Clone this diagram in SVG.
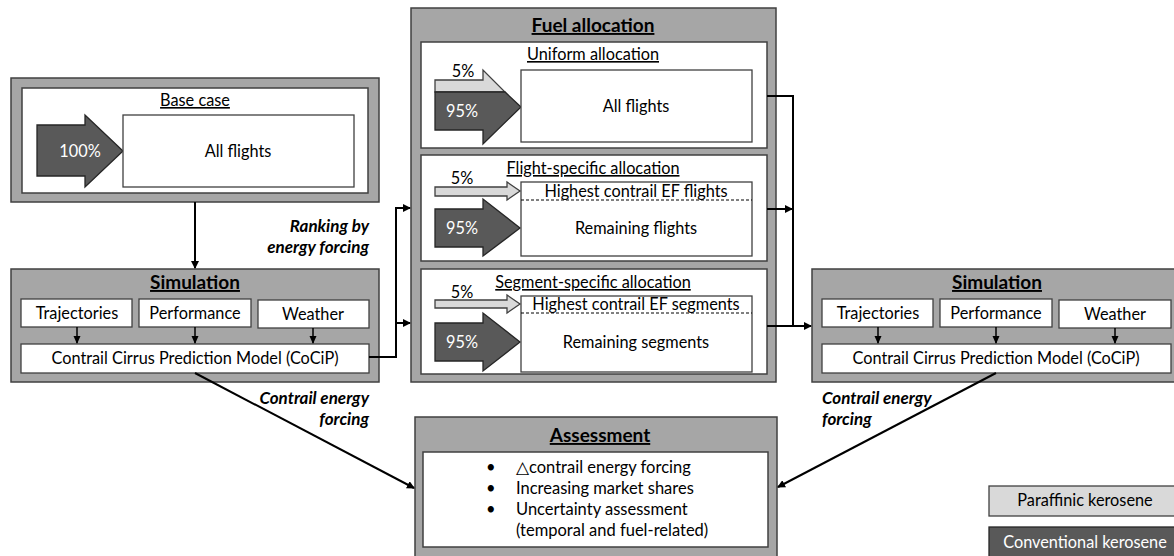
<svg xmlns="http://www.w3.org/2000/svg" width="1174" height="556" viewBox="0 0 1174 556">
<style>
text{font-family:Lato,"Open Sans","Liberation Sans",sans-serif;fill:#000}
.outer{fill:#a6a6a6;stroke:#404040;stroke-width:1.5}
.inner{fill:#fff;stroke:#404040;stroke-width:1.5}
.box{fill:#fff;stroke:#404040;stroke-width:1.3}
.dark{fill:#595959;stroke:#262626;stroke-width:1.3}
.light{fill:#d9d9d9;stroke:#404040;stroke-width:1.3}
.t{font-size:16.3px;text-anchor:middle}
.h{font-size:19px;font-weight:bold;text-anchor:middle;text-decoration:underline}
.s{font-size:16.3px;text-anchor:middle;text-decoration:underline}
.w{fill:#fff}
.lab{font-size:17px;font-weight:bold;font-style:italic}
.con{fill:none;stroke:#000;stroke-width:2}
.sm{fill:none;stroke:#000;stroke-width:1.5}
.dash{stroke:#000;stroke-width:1;stroke-dasharray:3 2}
</style>
<defs>
<marker id="ah" markerWidth="8" markerHeight="8" refX="7" refY="4" orient="auto" markerUnits="userSpaceOnUse">
<path d="M0,0 L8,4 L0,8 Z" fill="#000"/>
</marker>
<marker id="ahs" markerWidth="8" markerHeight="8" refX="7" refY="4" orient="auto" markerUnits="userSpaceOnUse">
<path d="M0,0.5 L8,4 L0,7.5 Z" fill="#000"/>
</marker>
</defs>

<g id="base-case">
<rect class="outer" x="11" y="78" width="368" height="124"/>
<rect class="inner" x="22" y="88" width="346" height="105"/>
<text class="s" x="195" y="106">Base case</text>
<polygon class="dark" points="37,125 85,125 85,115 123,151 85,187 85,176 37,176"/>
<text class="t w" x="80" y="157">100%</text>
<rect class="box" x="123" y="115" width="231" height="72"/>
<text class="t" x="238" y="157">All flights</text>
</g>

<g id="simulation-left">
<rect class="outer" x="11" y="269" width="368" height="113"/>
<text class="h" x="195" y="289">Simulation</text>
<rect class="box" x="21" y="299" width="111" height="28"/>
<text class="t" x="77" y="319">Trajectories</text>
<rect class="box" x="139" y="299" width="112" height="28"/>
<text class="t" x="195" y="319">Performance</text>
<rect class="box" x="258" y="300" width="111" height="28"/>
<text class="t" x="313" y="320">Weather</text>
<rect class="box" x="21" y="344" width="348" height="29"/>
<text class="t" x="195" y="364">Contrail Cirrus Prediction Model (CoCiP)</text>
<line class="sm" x1="77" y1="327" x2="77" y2="343" marker-end="url(#ahs)"/>
<line class="sm" x1="195" y1="327" x2="195" y2="343" marker-end="url(#ahs)"/>
<line class="sm" x1="313" y1="328" x2="313" y2="343" marker-end="url(#ahs)"/>
</g>

<g id="fuel-allocation">
<rect class="outer" x="411" y="8" width="365" height="374"/>
<text class="h" x="593" y="32">Fuel allocation</text>
<g id="uniform">
<rect class="inner" x="421" y="42" width="346" height="106"/>
<text class="s" x="593" y="60">Uniform allocation</text>
<polygon class="light" points="435,80 483,80 483,70 505,92 435,92"/>
<polygon class="dark" points="435,92 505,92 521,107 483,144 483,130 435,130"/>
<text class="t" x="463" y="77">5%</text>
<text class="t w" x="462" y="117">95%</text>
<rect class="box" x="521" y="70" width="231" height="72"/>
<text class="t" x="636" y="112">All flights</text>
</g>
<g id="flight-specific">
<rect class="inner" x="421" y="155" width="346" height="106"/>
<text class="s" x="593" y="174">Flight-specific allocation</text>
<polygon class="light" points="435,187 507,187 507,182 520,191 507,200 507,196 435,196"/>
<text class="t" x="462" y="184">5%</text>
<polygon class="dark" points="435,209 483,209 483,199 520,228 483,256 483,247 435,247"/>
<text class="t w" x="462" y="234">95%</text>
<rect class="box" x="521" y="182" width="231" height="74"/>
<line class="dash" x1="521" y1="200" x2="752" y2="200"/>
<text class="t" x="636" y="197">Highest contrail EF flights</text>
<text class="t" x="636" y="234">Remaining flights</text>
</g>
<g id="segment-specific">
<rect class="inner" x="421" y="269" width="346" height="105"/>
<text class="s" x="593" y="288">Segment-specific allocation</text>
<polygon class="light" points="435,300 507,300 507,295 520,304 507,313 507,308 435,308"/>
<text class="t" x="462" y="298">5%</text>
<polygon class="dark" points="435,323 483,323 483,313 520,342 483,371 483,361 435,361"/>
<text class="t w" x="462" y="348">95%</text>
<rect class="box" x="521" y="296" width="231" height="76"/>
<line class="dash" x1="521" y1="313" x2="752" y2="313"/>
<text class="t" x="636" y="310">Highest contrail EF segments</text>
<text class="t" x="636" y="348">Remaining segments</text>
</g>
</g>

<g id="simulation-right">
<rect class="outer" x="812" y="269" width="370" height="113"/>
<text class="h" x="997" y="289">Simulation</text>
<rect class="box" x="822" y="299" width="111" height="28"/>
<text class="t" x="878" y="319">Trajectories</text>
<rect class="box" x="940" y="299" width="112" height="28"/>
<text class="t" x="996" y="319">Performance</text>
<rect class="box" x="1059" y="300" width="112" height="28"/>
<text class="t" x="1115" y="320">Weather</text>
<rect class="box" x="822" y="344" width="349" height="29"/>
<text class="t" x="996" y="364">Contrail Cirrus Prediction Model (CoCiP)</text>
<line class="sm" x1="878" y1="327" x2="878" y2="343" stroke-width="1" marker-end="url(#ahs)"/>
<line class="sm" x1="996" y1="327" x2="996" y2="343" stroke-width="1" marker-end="url(#ahs)"/>
<line class="sm" x1="1115" y1="328" x2="1115" y2="343" stroke-width="1" marker-end="url(#ahs)"/>
</g>

<g id="assessment">
<rect class="outer" x="415" y="417" width="362" height="150"/>
<text class="h" x="600" y="442">Assessment</text>
<rect class="inner" x="423" y="452" width="345" height="95"/>
<g font-size="16.5px">
<text x="486" y="473">•</text><text x="516" y="473">△contrail energy forcing</text>
<text x="486" y="494">•</text><text x="516" y="494">Increasing market shares</text>
<text x="486" y="515">•</text><text x="516" y="515">Uncertainty assessment</text>
<text x="516" y="536">(temporal and fuel-related)</text>
</g>
</g>

<g id="legend">
<rect class="light" x="989" y="486" width="190" height="30"/>
<text class="t" x="1085" y="506">Paraffinic kerosene</text>
<rect class="dark" x="989" y="527" width="190" height="35"/>
<text class="t w" x="1085" y="548">Conventional kerosene</text>
</g>

<g id="connectors">
<line class="con" x1="195" y1="202" x2="195" y2="268" marker-end="url(#ah)"/>
<polyline class="con" points="369,357 396,357 396,208 410,208" marker-end="url(#ah)"/>
<line class="con" x1="396" y1="323" x2="410" y2="323" marker-end="url(#ah)"/>
<polyline class="con" points="767,96 793,96 793,326"/>
<line class="con" x1="767" y1="209" x2="792" y2="209" marker-end="url(#ah)"/>
<line class="con" x1="767" y1="326" x2="811" y2="326" marker-end="url(#ah)"/>
<line class="con" x1="195" y1="373" x2="414" y2="488" marker-end="url(#ah)"/>
<line class="con" x1="996" y1="373" x2="778" y2="487" marker-end="url(#ah)"/>
</g>

<g id="labels">
<text class="lab" x="369" y="232" text-anchor="end">Ranking by</text>
<text class="lab" x="369" y="253" text-anchor="end">energy forcing</text>
<text class="lab" x="369" y="404" text-anchor="end">Contrail energy</text>
<text class="lab" x="369" y="425" text-anchor="end">forcing</text>
<text class="lab" x="822" y="404">Contrail energy</text>
<text class="lab" x="822" y="425">forcing</text>
</g>
</svg>
